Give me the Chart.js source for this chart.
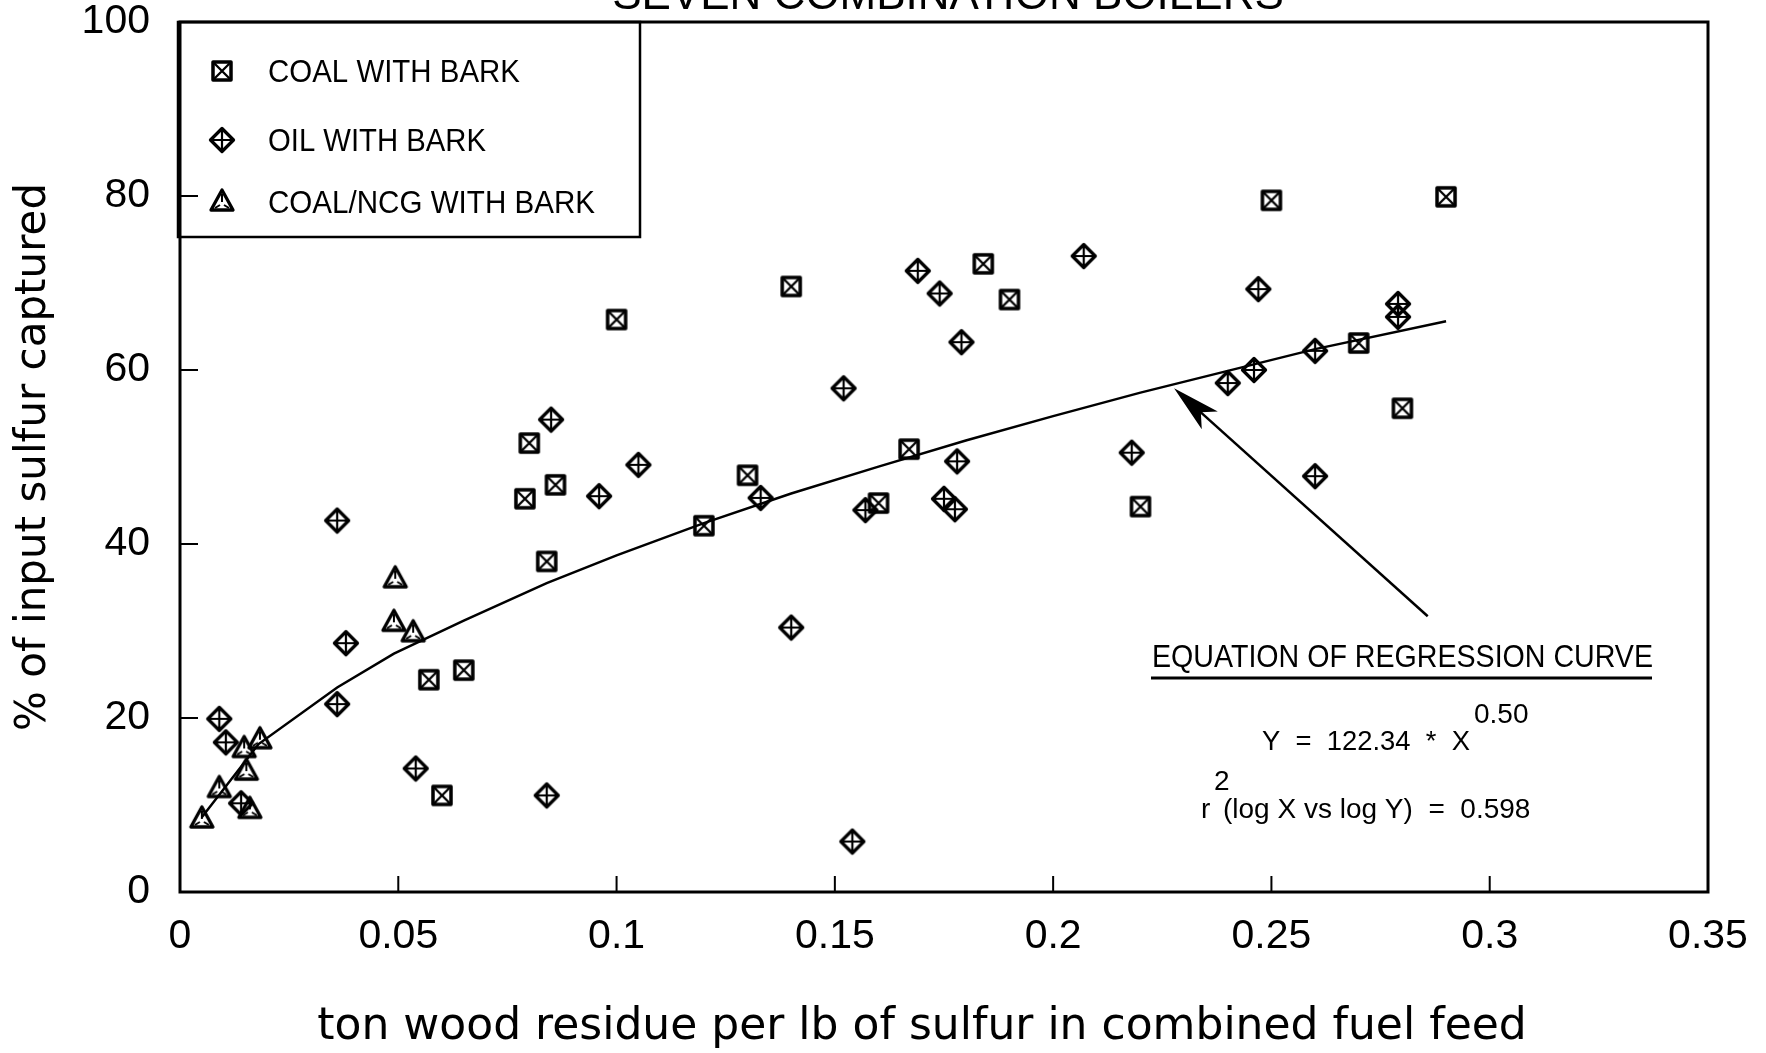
<!DOCTYPE html>
<html>
<head>
<meta charset="utf-8">
<script src="https://cdn.jsdelivr.net/npm/chart.js@4.4.1/dist/chart.umd.min.js"></script>
<style>
  html, body { margin: 0; padding: 0; background: #fff; }
  #wrap { width: 1766px; height: 1053px; }
</style>
</head>
<body>
<div id="wrap"><canvas id="chart" width="1766" height="1053"></canvas></div>
<script>
// ==================== DATA ====================
const xTickLabels = ['0', '0.05', '0.1', '0.15', '0.2', '0.25', '0.3', '0.35'];
const yTickLabels = ['0', '20', '40', '60', '80', '100'];

// coal with bark
const coalX = [0.1, 0.08, 0.079, 0.086, 0.084, 0.057, 0.065, 0.06, 0.12, 0.13, 0.14, 0.167, 0.16, 0.184, 0.19, 0.22, 0.25, 0.29, 0.27, 0.28];
const coalY = [65.8, 51.6, 45.2, 46.8, 38.0, 24.4, 25.5, 11.1, 42.1, 47.9, 69.6, 50.9, 44.7, 72.2, 68.1, 44.3, 79.5, 79.9, 63.1, 55.6];

// oil with bark
const oilX = [0.009, 0.0105, 0.014, 0.036, 0.038, 0.036, 0.054, 0.085, 0.084, 0.096, 0.105, 0.133, 0.14, 0.152, 0.157, 0.154,
              0.169, 0.174, 0.179, 0.178, 0.175, 0.1775, 0.207, 0.218, 0.24, 0.246, 0.247, 0.26, 0.26, 0.279, 0.279];
const oilY = [19.9, 17.2, 10.2, 42.7, 28.6, 21.6, 14.2, 54.3, 11.1, 45.5, 49.1, 45.3, 30.4, 57.9, 43.9, 5.8,
              71.4, 68.8, 63.2, 49.5, 45.2, 44.0, 73.1, 50.5, 58.5, 60.0, 69.3, 62.2, 47.8, 67.6, 66.1];

// coal/ncg with bark
const ncgX = [0.005, 0.009, 0.0147, 0.0152, 0.016, 0.0183, 0.0493, 0.049, 0.0534];
const ncgY = [8.4, 11.9, 16.5, 13.9, 9.5, 17.5, 36.0, 31.0, 29.8];

// regression curve
const curveX = [0.005, 0.018, 0.036, 0.049, 0.065, 0.084, 0.1, 0.12, 0.14, 0.16, 0.18, 0.2, 0.22, 0.24, 0.26, 0.29];
const curveY = [8.6, 17.0, 23.5, 27.4, 31.2, 35.5, 38.7, 42.4, 45.8, 48.9, 51.9, 54.7, 57.4, 59.9, 62.4, 65.6];

const seriesNames = ['COAL WITH BARK', 'OIL WITH BARK', 'COAL/NCG WITH BARK'];

const toPoints = (xs, ys) => xs.map((x, i) => ({ x, y: ys[i] }));

// ==================== MARKERS ====================
function makeMarker(kind) {
    const c = document.createElement('canvas');
    c.width = 30; c.height = 30;
    const g = c.getContext('2d');
    const m = 15;
    g.strokeStyle = '#000';
    g.lineJoin = 'round';
    if (kind === 'square') {
        g.lineWidth = 3.5;
        g.strokeRect(m - 9, m - 9, 18, 18);
        g.lineWidth = 2.3;
        g.beginPath();
        g.moveTo(m - 8, m - 8); g.lineTo(m + 8, m + 8);
        g.moveTo(m + 8, m - 8); g.lineTo(m - 8, m + 8);
        g.stroke();
    } else if (kind === 'diamond') {
        g.lineWidth = 3.3;
        g.beginPath();
        g.moveTo(m, m - 11.5); g.lineTo(m + 11.5, m); g.lineTo(m, m + 11.5); g.lineTo(m - 11.5, m);
        g.closePath();
        g.stroke();
        g.lineWidth = 2.2;
        g.beginPath();
        g.moveTo(m - 10, m); g.lineTo(m + 10, m);
        g.moveTo(m, m - 10); g.lineTo(m, m + 10);
        g.stroke();
    } else {
        g.lineWidth = 3.3;
        const top = [m, m - 12], br = [m + 11, m + 8], bl = [m - 11, m + 8];
        g.beginPath();
        g.moveTo(...top); g.lineTo(...br); g.lineTo(...bl);
        g.closePath();
        g.stroke();
        g.lineWidth = 2;
        const cy = m + 2;
        g.beginPath();
        g.moveTo(m, m - 8); g.lineTo(m, cy - 2);
        g.moveTo(m + 7, m + 6); g.lineTo(m + 2, cy + 1);
        g.moveTo(m - 7, m + 6); g.lineTo(m - 2, cy + 1);
        g.stroke();
    }
    return c;
}
const markers = [makeMarker('square'), makeMarker('diamond'), makeMarker('triangle')];

// ==================== EXTRA DRAWING ====================
const decorPlugin = {
    id: 'decor',
    afterDraw(chart) {
        const { ctx, chartArea: a, scales: { x, y } } = chart;
        ctx.save();
        ctx.strokeStyle = '#000';
        ctx.fillStyle = '#000';

        // frame
        ctx.lineWidth = 3;
        ctx.strokeRect(a.left, a.top, a.right - a.left, a.bottom - a.top);

        // inner ticks
        ctx.lineWidth = 2;
        ctx.beginPath();
        x.ticks.forEach(t => {
            const px = x.getPixelForValue(t.value);
            if (px > a.left + 2 && px < a.right - 2) { ctx.moveTo(px, a.bottom); ctx.lineTo(px, a.bottom - 16); }
        });
        y.ticks.forEach(t => {
            const py = y.getPixelForValue(t.value);
            if (py > a.top + 2 && py < a.bottom - 2) { ctx.moveTo(a.left, py); ctx.lineTo(a.left + 18, py); }
        });
        ctx.stroke();

        // title (cut off at the top edge)
        ctx.font = '44px "Liberation Sans", Arial, sans-serif';
        ctx.textAlign = 'center';
        ctx.textBaseline = 'alphabetic';
        ctx.fillText('SEVEN COMBINATION BOILERS', 948, 9, 680);

        // x axis title, a little left of the plot centre as in the original
        ctx.font = '44px "DejaVu Sans", sans-serif';
        ctx.textBaseline = 'middle';
        ctx.fillText('ton wood residue per lb of sulfur in combined fuel feed', 922, 1028);

        // legend box
        ctx.lineWidth = 2.5;
        ctx.strokeRect(a.left - 2, a.top, 462, 215);
        ctx.font = '32px "Liberation Sans", Arial, sans-serif';
        ctx.textAlign = 'left';
        ctx.textBaseline = 'middle';
        const rows = [a.top + 49, a.top + 118, a.top + 180];
        const widths = [252, 218, 327];
        seriesNames.forEach((name, i) => {
            ctx.drawImage(markers[i], 222 - 15, rows[i] - 15);
            ctx.fillText(name, 268, rows[i] + 2, widths[i]);
        });

        // arrow to the curve
        const tipX = x.getPixelForValue(0.2277), tipY = y.getPixelForValue(57.9);
        const tailX = x.getPixelForValue(0.2858), tailY = y.getPixelForValue(31.7);
        const ang = Math.atan2(tailY - tipY, tailX - tipX);
        ctx.lineWidth = 2.5;
        ctx.beginPath();
        ctx.moveTo(tailX, tailY);
        ctx.lineTo(tipX + 30 * Math.cos(ang), tipY + 30 * Math.sin(ang));
        ctx.stroke();
        const hl = 48, hw = 12;
        const bx = tipX + hl * Math.cos(ang), by = tipY + hl * Math.sin(ang);
        ctx.beginPath();
        ctx.moveTo(tipX, tipY);
        ctx.lineTo(bx - hw * Math.sin(ang), by + hw * Math.cos(ang));
        ctx.lineTo(tipX + 36 * Math.cos(ang), tipY + 36 * Math.sin(ang));
        ctx.lineTo(bx + hw * Math.sin(ang), by - hw * Math.cos(ang));
        ctx.closePath();
        ctx.fill();

        // regression equation
        ctx.textAlign = 'left';
        ctx.textBaseline = 'alphabetic';
        ctx.font = '31px "Liberation Sans", Arial, sans-serif';
        ctx.fillText('EQUATION OF REGRESSION CURVE', 1152, 667, 501);
        ctx.lineWidth = 3;
        ctx.beginPath();
        ctx.moveTo(1151, 678); ctx.lineTo(1652, 678);
        ctx.stroke();

        ctx.font = '28px "Liberation Sans", Arial, sans-serif';
        ctx.fillText('Y  =  122.34  *  X', 1262, 750, 208);
        ctx.fillText('0.50', 1474, 723, 56);
        ctx.fillText('r', 1201, 818);
        ctx.fillText('2', 1214, 790);
        ctx.fillText('(log X vs log Y)  =  0.598', 1223, 818, 318);

        ctx.restore();
    }
};

// ==================== CHART ====================
const ctx = document.getElementById('chart').getContext('2d');
new Chart(ctx, {
    type: 'scatter',
    data: {
        datasets: [
            {
                type: 'line',
                label: 'curve',
                data: toPoints(curveX, curveY),
                borderColor: '#000',
                borderWidth: 2.5,
                pointRadius: 0,
                tension: 0,
                fill: false
            },
            { label: seriesNames[0], data: toPoints(coalX, coalY), pointStyle: markers[0], pointRadius: 12 },
            { label: seriesNames[1], data: toPoints(oilX, oilY), pointStyle: markers[1], pointRadius: 12 },
            { label: seriesNames[2], data: toPoints(ncgX, ncgY), pointStyle: markers[2], pointRadius: 12 }
        ]
    },
    options: {
        responsive: false,
        animation: false,
        devicePixelRatio: 1,
        layout: { padding: { left: 0, top: 22, right: 58, bottom: 0 } },
        plugins: {
            legend: { display: false },
            tooltip: { enabled: false }
        },
        scales: {
            x: {
                type: 'linear',
                min: 0,
                max: 0.35,
                ticks: {
                    stepSize: 0.05,
                    color: '#000',
                    padding: 20,
                    maxRotation: 0,
                    font: { family: '"Liberation Sans", Arial, sans-serif', size: 41 },
                    callback: (v, i) => xTickLabels[i]
                },
                grid: { display: false, drawTicks: false },
                border: { display: false },
                title: { display: false },
                afterFit: s => { s.height = 161; s.paddingLeft = 0; s.paddingRight = 0; }
            },
            y: {
                type: 'linear',
                min: 0,
                max: 100,
                ticks: {
                    stepSize: 20,
                    color: '#000',
                    padding: 30,
                    font: { family: '"Liberation Sans", Arial, sans-serif', size: 41 },
                    callback: (v, i) => yTickLabels[i]
                },
                grid: { display: false, drawTicks: false },
                border: { display: false },
                title: {
                    display: true,
                    text: '% of input sulfur captured',
                    color: '#000',
                    font: { family: '"DejaVu Sans", sans-serif', size: 42 },
                    padding: { top: 9, bottom: 0 }
                },
                afterFit: s => { s.width = 180; s.paddingTop = 0; s.paddingBottom = 0; }
            }
        }
    },
    plugins: [decorPlugin]
});
</script>
</body>
</html>
